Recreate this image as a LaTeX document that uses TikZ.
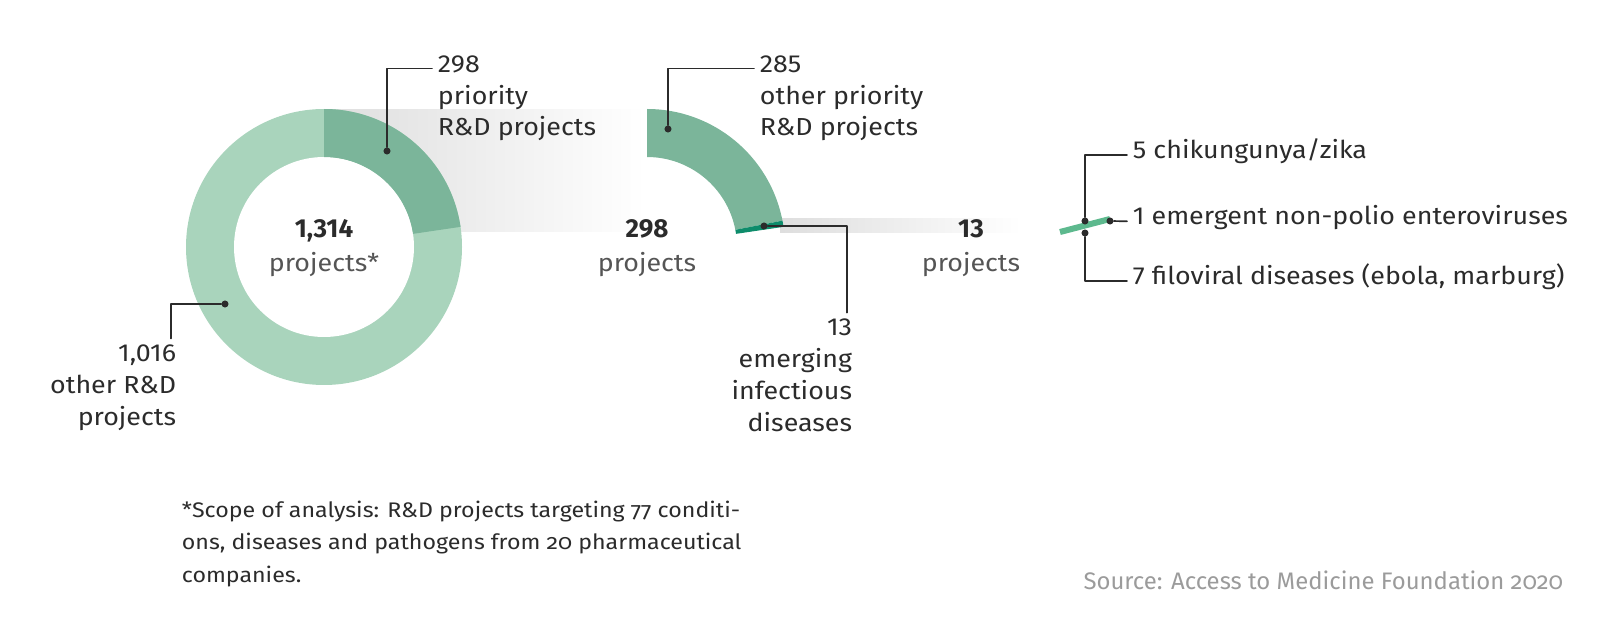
\documentclass[tikz,border=0pt]{standalone}
\usepackage{fontspec}
\setmainfont{Fira Sans}
\usetikzlibrary{calc}
\definecolor{ringlight}{HTML}{A9D4BC}
\definecolor{ringmid}{HTML}{7BB59A}
\definecolor{ringdark}{HTML}{0E8C6B}
\definecolor{barteal}{HTML}{5DB98E}
\definecolor{inkdark}{HTML}{2B2B2B}
\definecolor{inkgray}{HTML}{555555}
\definecolor{inksource}{HTML}{9B9B9B}
\tikzset{>=latex}
\tikzset{
	lbl/.style={font=\fontsize{17.5}{22.7}\selectfont\addfontfeatures{FakeStretch=1.09}, text=inkdark, inner sep=4pt, align=left},
	lblr/.style={lbl, align=right},
	num/.style={font=\fontsize{18.5}{22}\selectfont\bfseries, text=inkdark, inner sep=0pt, anchor=base},
	sub/.style={font=\fontsize{17.5}{22.7}\selectfont\addfontfeatures{FakeStretch=1.09}, text=inkgray, inner sep=0pt, anchor=base},
	note/.style={font=\fontsize{15}{23}\selectfont\addfontfeatures{Numbers=OldStyle, FakeStretch=1.1}, text=inkdark, inner sep=4pt, align=left},
	srcnote/.style={font=\fontsize{17}{20}\selectfont\addfontfeatures{Numbers=OldStyle}, text=inksource, inner sep=4pt},
	leader/.style={draw=inkdark, line width=1.2pt},
	dot/.style={circle, fill=inkdark, inner sep=0pt, minimum size=5pt},
}
% ring piece: centre, from angle, to angle, colour
\newcommand{\ringpart}[4]{%
	\fill[#4] ([shift={(#2:138)}]#1) arc[start angle=#2, end angle=#3, radius=138]
		-- ([shift={(#3:90)}]#1) arc[start angle=#3, end angle=#2, radius=90] -- cycle;
}

\begin{document}
\begin{tikzpicture}[x=0.025cm, y=0.025cm, line cap=round, line join=round]
	\useasboundingbox (0,0) rectangle (1600,620);
	
	% Fading bands
	\shade[left color=black!13, right color=white] (324,388) rectangle (645,510);
	\shade[left color=black!13, right color=white] (780,387) rectangle (1021,401);
	
	% Rings
	\coordinate (c1) at (324,373);
	\coordinate (c2) at (647,373);
	\fill[ringlight] (c1) circle (138);
	\fill[white] (c1) circle (90);
	\ringpart{c1}{8.4}{90}{ringmid}
	\ringpart{c2}{11}{90}{ringmid}
	\ringpart{c2}{8.4}{11}{ringdark}
	
	% Last slice
	\draw[barteal, line width=4.3pt, line cap=butt] (1060,388) -- (1110,401);
	
	% Dots
	\node[dot] (p298) at (387,469) {};
	\node[dot] (p1016) at (225,316) {};
	\node[dot] (p285) at (668,491) {};
	\node[dot] (p13) at (764,394) {};
	\node[dot] (pchik) at (1085,399) {};
	\node[dot] (pfilo) at (1085,387) {};
	\node[dot] (pentero) at (1110,399) {};
	
	% Labels (base = last line)
	\node[lbl, anchor=base west] (t298) at (432,484) {298\\priority\\R\&D projects};
	\node[lbl, anchor=base west] (t285) at (754,484) {285\\other priority\\R\&D projects};
	\node[lblr, anchor=base east] (t1016) at (182,195) {1,016\\other R\&D\\projects};
	\node[lblr, anchor=base east] (t13e) at (858,189) {13\\emerging\\infectious\\diseases};
	\node[lbl, anchor=base west] (tchik) at (1127,461) {5 chikungunya/zika};
	\node[lbl, anchor=base west] (tentero) at (1127,395) {1 emergent non-polio enteroviruses};
	\node[lbl, anchor=base west] (tfilo) at (1127,335) {7 filoviral diseases (ebola, marburg)};
	
	% Leaders
	\draw[leader] (p298) |- ([yshift=45.4pt]t298.mid west);
	\draw[leader] (p285) |- ([yshift=45.4pt]t285.mid west);
	\draw[leader] (p1016) -| ([xshift=-8pt]t1016.north east);
	\draw[leader] (p13) -| ([xshift=-8pt]t13e.north east);
	\draw[leader] (pchik) |- (tchik.mid west);
	\draw[leader] (pfilo) |- (tfilo.mid west);
	\draw[leader] (pentero) -- (tentero.mid west);
	
	% Totals
	\node[num] (n1314) at (324,382) {1,314};
	\node[sub] (s1314) at (324,348) {projects*};
	\node[num] (n298) at (647,382) {298};
	\node[sub] (s298) at (647,348) {projects};
	\node[num] (n13) at (971,382) {13};
	\node[sub] (s13) at (971,348) {projects};
	
	% Notes
	\node[note, anchor=base west] (scope) at (176,38) {*Scope of analysis: R\&D projects targeting 77 conditi-\\ons, diseases and pathogens from 20 pharmaceutical\\companies.};
	\node[srcnote, anchor=base east] (src) at (1569,31) {Source: Access to Medicine Foundation 2020};
\end{tikzpicture}
\end{document}
